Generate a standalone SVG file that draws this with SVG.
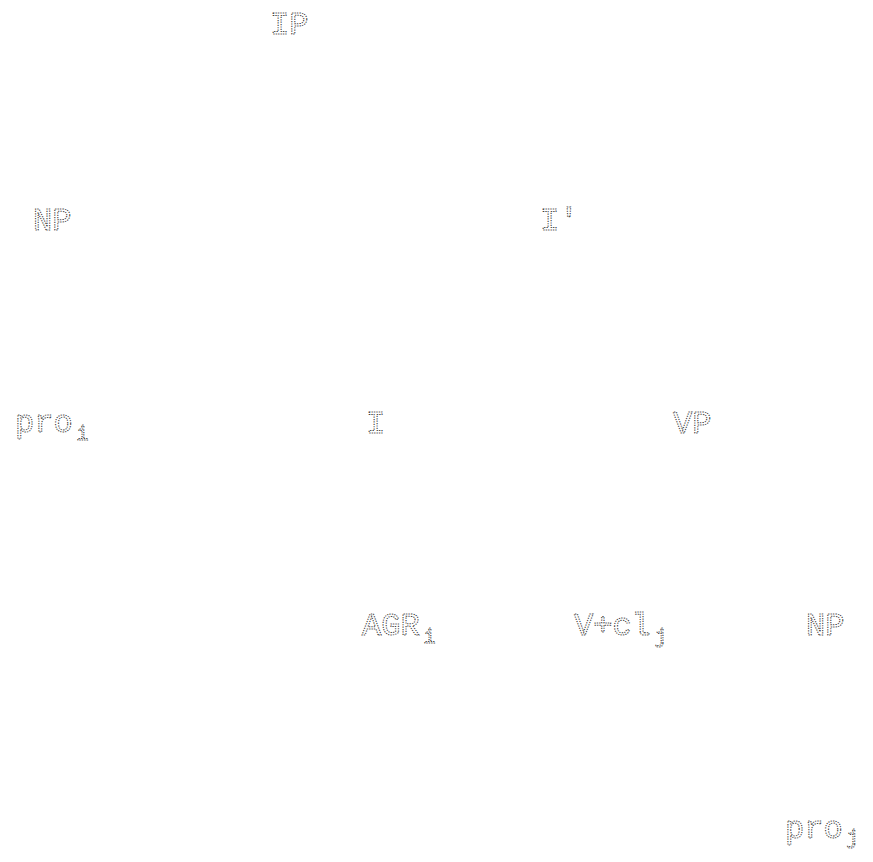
<svg xmlns="http://www.w3.org/2000/svg" width="873" height="862" viewBox="0 0 873 862">
<style>
text{font-family:"Liberation Mono","DejaVu Sans Mono",monospace;font-size:32px;fill:none;stroke:#333;stroke-width:1;stroke-dasharray:1.2 1.2}
.sub{font-size:20px}
</style>
<rect width="873" height="862" fill="#fff"/>
<g id="connectors"></g>
<g id="n-IP"><text x="270" y="34">IP</text></g>
<g id="n-NP1"><text x="33" y="230">NP</text></g>
<g id="n-Ibar"><text x="540" y="230">I′</text></g>
<g id="n-pro-i"><text x="15" y="432">pro<tspan class="sub" dx="4" dy="8">i</tspan></text></g>
<g id="n-I"><text x="366" y="433">I</text></g>
<g id="n-VP"><text x="673" y="433">VP</text></g>
<g id="n-AGR"><text x="362" y="635">AGR<tspan class="sub" dx="4" dy="8">i</tspan></text></g>
<g id="n-Vcl"><text x="574" y="635">V+cl<tspan class="sub" dx="4" dy="8">j</tspan></text></g>
<g id="n-NP2"><text x="806" y="635">NP</text></g>
<g id="n-pro-j"><text x="785" y="838">pro<tspan class="sub" dx="4" dy="6">j</tspan></text></g>
</svg>
